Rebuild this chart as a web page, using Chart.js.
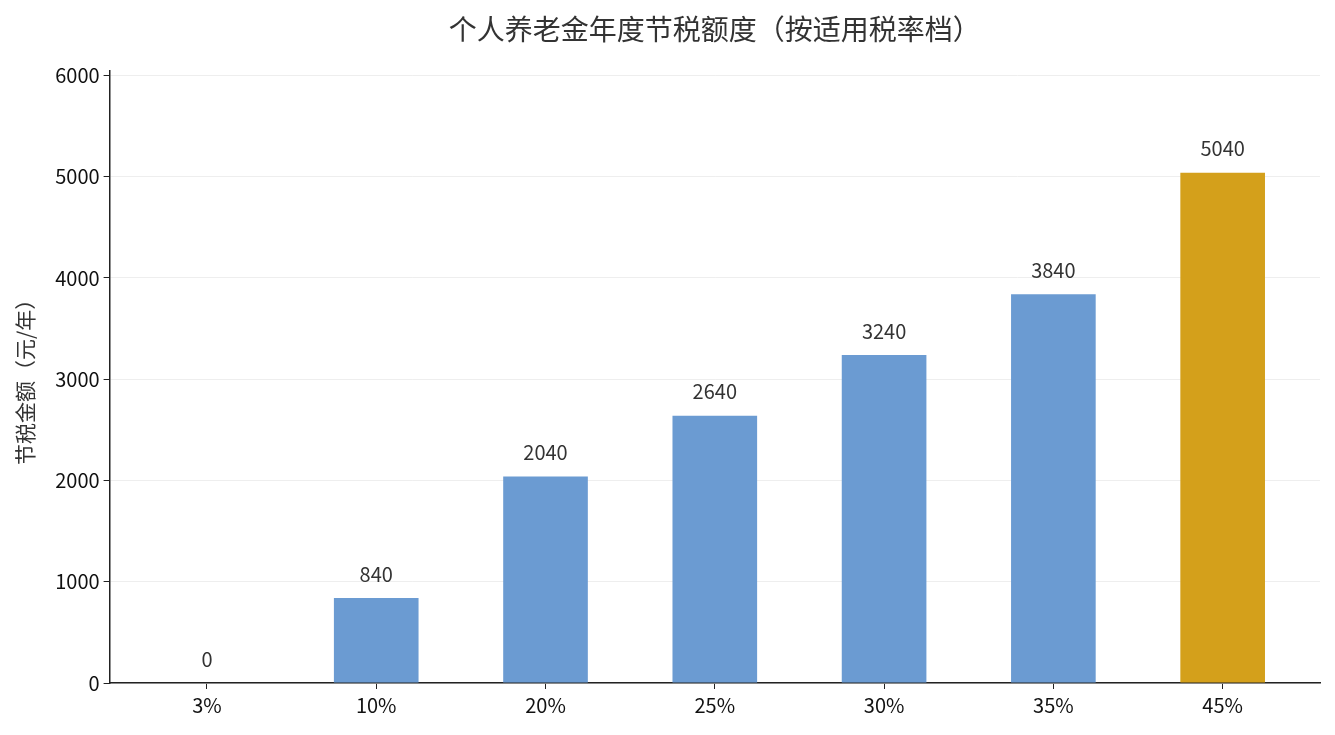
<!DOCTYPE html>
<html>
<head>
<meta charset="utf-8">
<script src="https://cdn.jsdelivr.net/npm/chart.js@4"></script>
<style>
  body { margin: 0; background: #fff; }
  #wrap { width: 1335px; height: 735px; }
</style>
</head>
<body>
<div id="wrap"><canvas id="taxChart"></canvas></div>
<script>
// 税率档与对应年度节税额（元）
const rateLabels = ['3%', '10%', '20%', '25%', '30%', '35%', '45%'];
const savings = [0, 840, 2040, 2640, 3240, 3840, 5040];
const yTicks = [0, 1000, 2000, 3000, 4000, 5000, 6000];

const blue = '#6b9bd2';
const gold = '#d4a01b';
const FONT = '"Noto Sans CJK SC", "Noto Sans", sans-serif';

// labels over the bars
const valueLabels = {
    id: 'valueLabels',
    afterDatasetsDraw(chart) {
        const c = chart.ctx;
        const meta = chart.getDatasetMeta(0);
        c.save();
        c.font = '20px ' + FONT;
        c.fillStyle = '#333';
        c.textAlign = 'center';
        c.textBaseline = 'bottom';
        meta.data.forEach((bar, i) => {
            c.fillText(String(savings[i]), bar.x, bar.y - 14);
        });
        c.restore();
    }
};

const ctx = document.getElementById('taxChart').getContext('2d');
const taxChart = new Chart(ctx, {
    type: 'bar',
    data: {
        datasets: [{
            label: '节税金额',
            data: savings.map((v, i) => ({ x: i, y: v })),
            backgroundColor: savings.map((v, i) => i === savings.length - 1 ? gold : blue),
            borderWidth: 0,
            barPercentage: 0.5,
            categoryPercentage: 1
        }]
    },
    plugins: [valueLabels],
    options: {
        responsive: true,
        maintainAspectRatio: false,
        animation: false,
        layout: {
            padding: { left: 8, right: 15, top: 0, bottom: 14 }
        },
        plugins: {
            legend: { display: false },
            tooltip: { enabled: false },
            title: {
                display: true,
                fullSize: false,
                text: '个人养老金年度节税额度（按适用税率档）',
                color: '#333',
                font: { family: FONT, size: 28, weight: 'normal' },
                padding: { top: 13, bottom: 24 }
            }
        },
        scales: {
            x: {
                type: 'linear',
                offset: false,
                min: -0.575,
                max: rateLabels.length - 1 + 0.575,
                afterBuildTicks: (scale) => {
                    scale.ticks = rateLabels.map((l, i) => ({ value: i }));
                },
                ticks: {
                    callback: (v) => rateLabels[v],
                    color: '#111',
                    font: { family: FONT, size: 20 },
                    padding: 4,
                    maxRotation: 0
                },
                grid: {
                    offset: false,
                    drawOnChartArea: false,
                    tickLength: 6,
                    tickColor: '#222'
                },
                border: { color: '#222', width: 1.5 }
            },
            y: {
                min: 0,
                max: 6048,
                z: 1,
                afterBuildTicks: (scale) => {
                    scale.ticks = yTicks.map(v => ({ value: v }));
                },
                ticks: {
                    callback: (v) => String(v),
                    color: '#111',
                    font: { family: FONT, size: 20 },
                    padding: 4
                },
                grid: {
                    color: 'rgba(232,232,232,0.75)',
                    lineWidth: 1,
                    tickLength: 6,
                    tickColor: '#222'
                },
                border: { color: '#222', width: 1.5 },
                title: {
                    display: true,
                    text: '节税金额（元/年）',
                    color: '#333',
                    font: { family: FONT, size: 21 },
                    padding: { bottom: 14 }
                }
            }
        }
    }
});
</script>
</body>
</html>
